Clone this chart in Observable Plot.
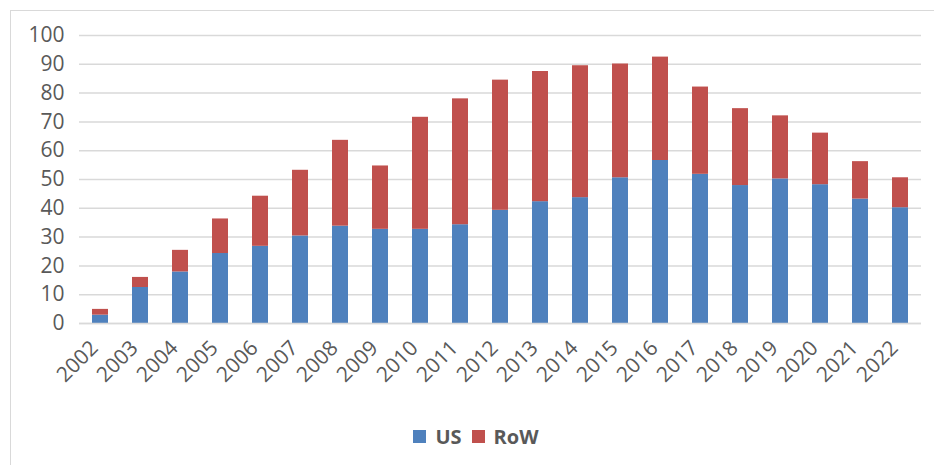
<!DOCTYPE html>
<html>
<head>
<meta charset="utf-8">
<script src="https://cdn.jsdelivr.net/npm/d3@7"></script>
<script src="https://cdn.jsdelivr.net/npm/@observablehq/plot@0.6"></script>
<style>
  html, body { margin: 0; padding: 0; background: #fff; }
  #wrap { position: relative; width: 934px; height: 465px; overflow: hidden; font-family: "Open Sans", sans-serif; }
  #border { position: absolute; left: 10px; top: 10px; width: 940px; height: 470px; border-left: 1.5px solid #d9d9d9; border-top: 1.5px solid #d9d9d9; }
  #chart { position: absolute; left: 0; top: 0; }
  #legend { position: absolute; left: 0; top: 423px; width: 952px; display: flex; justify-content: center; align-items: center; font-size: 20px; font-weight: bold; color: #595959; }
  .item { display: flex; align-items: center; margin: 0 5px; }
  .sw { width: 13px; height: 13px; margin-right: 9px; }
</style>
</head>
<body>
<div id="wrap">
  <div id="border"></div>
  <div id="chart"></div>
  <div id="legend"></div>
</div>
<script>
const years = ["2002","2003","2004","2005","2006","2007","2008","2009","2010","2011","2012","2013","2014","2015","2016","2017","2018","2019","2020","2021","2022"];
const us  = [2.9, 12.5, 17.9, 24.3, 26.8, 30.4, 33.8, 32.7, 32.7, 34.3, 39.3, 42.3, 43.7, 50.6, 56.6, 51.8, 47.9, 50.2, 48.2, 43.2, 40.2];
const row = [2.0, 3.5, 7.5, 12.0, 17.4, 22.8, 29.8, 22.0, 38.9, 43.7, 45.2, 45.2, 45.8, 39.5, 35.9, 30.3, 26.7, 21.9, 17.9, 13.0, 10.4];
const seriesNames = ["US", "RoW"];
const seriesColors = ["#4f81bd", "#c0504d"];
const yTicks = [0, 10, 20, 30, 40, 50, 60, 70, 80, 90, 100];

const data = [
  ...years.map((y, i) => ({year: y, series: "US", value: us[i]})),
  ...years.map((y, i) => ({year: y, series: "RoW", value: row[i]}))
];

const plot = Plot.plot({
  width: 934,
  height: 400,
  marginTop: 35,
  marginBottom: 77,
  marginLeft: 79,
  marginRight: 13,
  style: {fontFamily: "Open Sans, sans-serif", fontSize: "21px", color: "#595959", background: "transparent", overflow: "visible"},
  x: {domain: years, paddingInner: 0.6, paddingOuter: 0.3, label: null},
  y: {domain: [0, 100], label: null},
  color: {domain: seriesNames, range: seriesColors},
  marks: [
    Plot.gridY(yTicks, {stroke: "#d9d9d9", strokeOpacity: 1, strokeWidth: 1.5}),
    Plot.barY(data, {x: "year", y: "value", fill: "series", order: seriesNames}),
    Plot.axisY(yTicks, {tickSize: 0, tickPadding: 15, fill: "#595959", fontSize: 21}),
    Plot.axisX({tickSize: 0, tickRotate: -45, tickPadding: 21, dx: -6, fill: "#595959", fontSize: 21}),
    Plot.ruleY([0], {stroke: "#d9d9d9", strokeWidth: 1.5})
  ]
});
document.getElementById("chart").appendChild(plot);

const legend = document.getElementById("legend");
seriesNames.forEach((name, i) => {
  const item = document.createElement("div");
  item.className = "item";
  const sw = document.createElement("div");
  sw.className = "sw";
  sw.style.background = seriesColors[i];
  const lab = document.createElement("span");
  lab.textContent = name;
  item.appendChild(sw);
  item.appendChild(lab);
  legend.appendChild(item);
});
</script>
</body>
</html>
